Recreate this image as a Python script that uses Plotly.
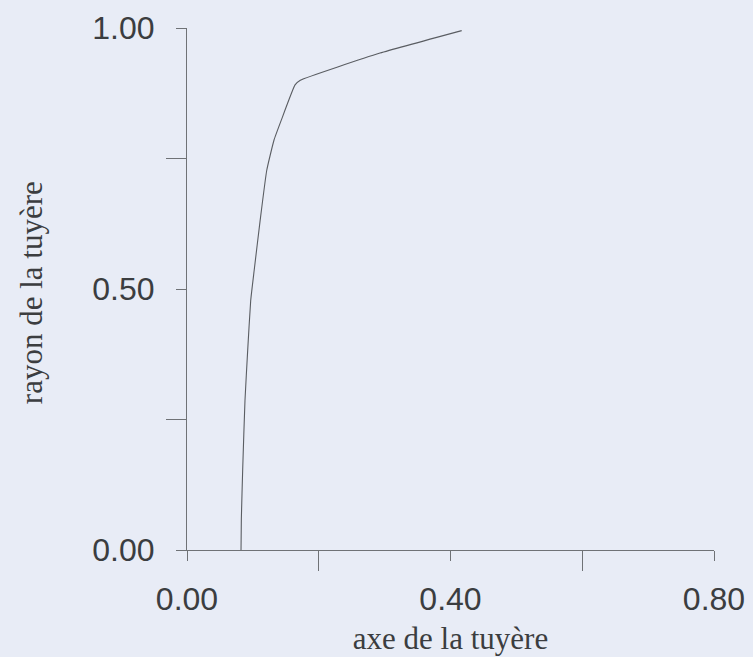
import plotly.graph_objects as go

# Nozzle contour
axe = [0.082, 0.0825, 0.0846, 0.088, 0.0921, 0.0967, 0.102, 0.111, 0.121, 0.132, 0.143, 0.164, 0.172, 0.293, 0.417]
rayon = [0.000, 0.060, 0.157, 0.286, 0.382, 0.478, 0.536, 0.631, 0.727, 0.785, 0.823, 0.891, 0.900, 0.952, 0.995]

x_major = [0.0, 0.4, 0.8]
x_minor = [0.2, 0.6]
y_major = [0.0, 0.5, 1.0]
y_minor = [0.25, 0.75]

x_title = "axe de la tuyère"
y_title = "rayon de la tuyère"

bg = "#e8ecf6"
axis_col = "#6f7276"
text_col = "#3b3d40"
serif = "Liberation Serif, Times New Roman, serif"
sans = "Liberation Sans, Arial, sans-serif"

fig = go.Figure()
fig.add_trace(go.Scatter(
    x=axe, y=rayon, mode="lines",
    line=dict(color="#5a5d62", width=1.1, shape="spline", smoothing=0.4),
    hoverinfo="skip", showlegend=False,
))

fig.update_layout(
    width=753, height=657,
    margin=dict(l=187, r=39, t=28, b=107),
    paper_bgcolor=bg, plot_bgcolor=bg,
    showlegend=False,
    font=dict(family=sans, color=text_col),
)

fig.update_xaxes(
    range=[0, 0.8], showgrid=False, zeroline=False, automargin=False,
    showline=True, linecolor=axis_col, linewidth=1,
    tickmode="array", tickvals=x_major, tickformat=".2f",
    ticks="outside", ticklen=10, tickcolor=axis_col, tickwidth=1,
    tickfont=dict(size=32, color=text_col, family=sans),
    ticklabelstandoff=11,
    minor=dict(tickmode="array", tickvals=x_minor, ticks="outside", ticklen=20,
               tickcolor=axis_col, tickwidth=1, showgrid=False),
    title=dict(text=x_title, standoff=10,
               font=dict(size=31, family=serif, color=text_col)),
)
fig.update_yaxes(
    range=[0, 1.0], showgrid=False, zeroline=False, automargin=False,
    showline=True, linecolor=axis_col, linewidth=1,
    tickmode="array", tickvals=y_major, tickformat=".2f",
    ticks="outside", ticklen=10, tickcolor=axis_col, tickwidth=1,
    tickfont=dict(size=32, color=text_col, family=sans),
    ticklabelstandoff=15,
    minor=dict(tickmode="array", tickvals=y_minor, ticks="outside", ticklen=20,
               tickcolor=axis_col, tickwidth=1, showgrid=False),
)

fig.add_annotation(
    text=y_title, textangle=-90, showarrow=False,
    xref="paper", yref="paper", x=-0.296, y=0.492,
    xanchor="center", yanchor="middle",
    font=dict(size=31, family=serif, color=text_col),
)

fig.write_html("out.html")
